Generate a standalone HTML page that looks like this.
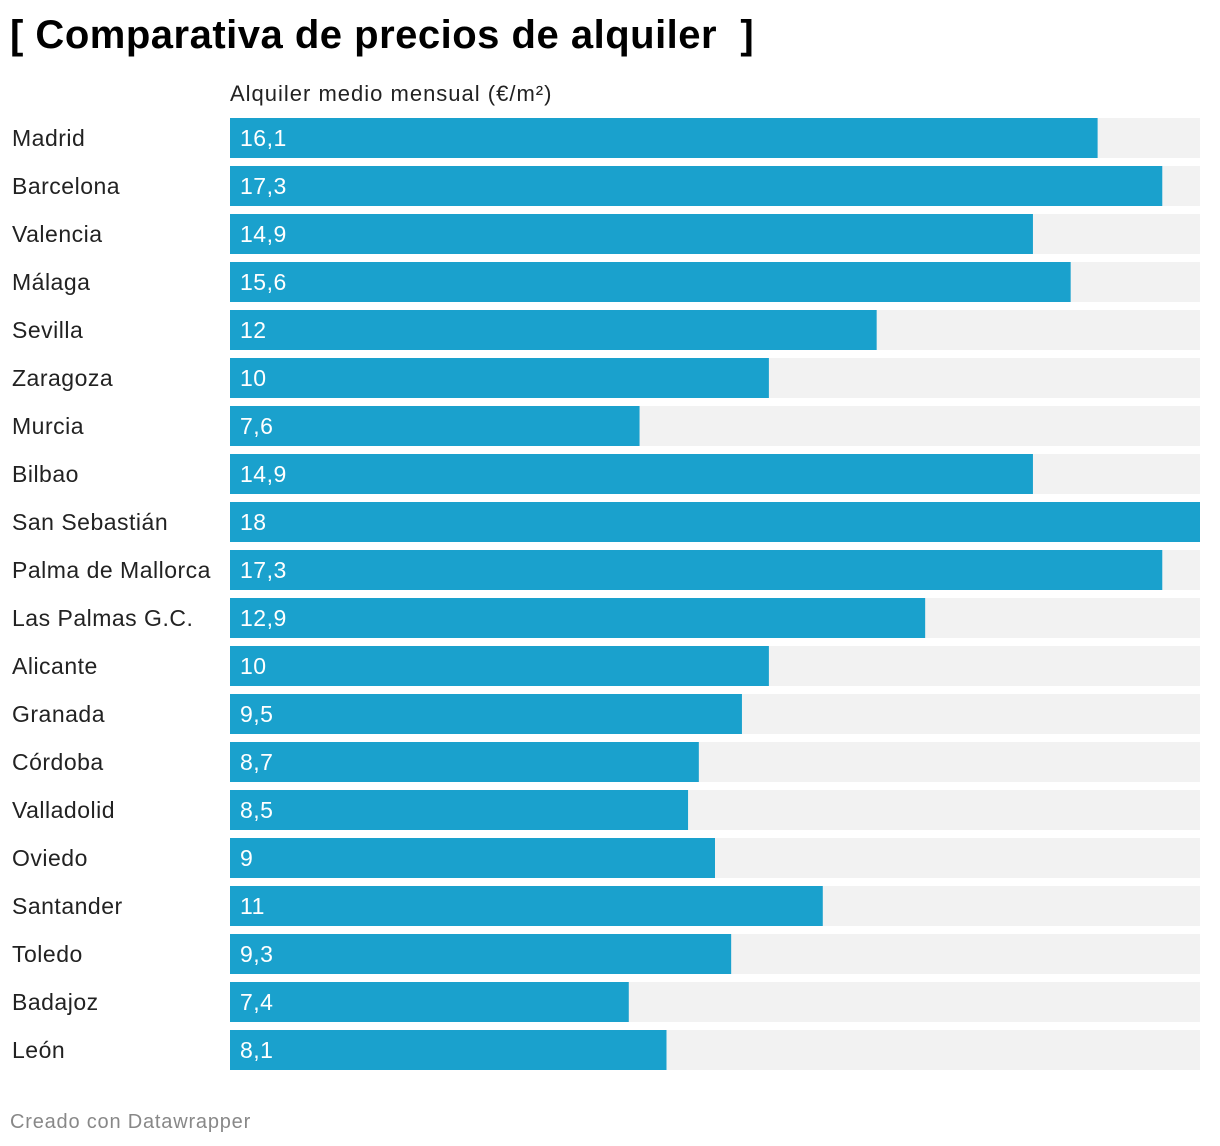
<!DOCTYPE html>
<html><head><meta charset="utf-8"><style>
body{margin:0;background:#fff;width:1220px;height:1146px;position:relative;font-family:"Liberation Sans",sans-serif;overflow:hidden}
#title{position:absolute;left:10px;top:13px;font-size:40px;font-weight:bold;color:#000;white-space:pre;letter-spacing:0.5px}
#sub{position:absolute;left:230px;top:81px;font-size:22px;color:#222;letter-spacing:1px}
#foot{position:absolute;left:10px;top:1111px;font-size:20px;color:#888;letter-spacing:0.8px}
svg{position:absolute;left:0;top:0}
</style></head><body>
<div id="title">[ Comparativa de precios de alquiler  ]</div>
<div id="sub">Alquiler medio mensual (€/m²)</div>
<svg id="chart" width="1220" height="1146"></svg>
<div id="foot">Creado con Datawrapper</div>
<script>
const categories=["Madrid","Barcelona","Valencia","Málaga","Sevilla","Zaragoza","Murcia","Bilbao","San Sebastián","Palma de Mallorca","Las Palmas G.C.","Alicante","Granada","Córdoba","Valladolid","Oviedo","Santander","Toledo","Badajoz","León"];
const values=[16.1,17.3,14.9,15.6,12,10,7.6,14.9,18,17.3,12.9,10,9.5,8.7,8.5,9,11,9.3,7.4,8.1];
const labels=["16,1","17,3","14,9","15,6","12","10","7,6","14,9","18","17,3","12,9","10","9,5","8,7","8,5","9","11","9,3","7,4","8,1"];
const maxV=18;
const x0=230,x1=1200,top0=118,step=48,bh=40;
const xs=v=>(v/maxV)*(x1-x0);
const ys=i=>top0+i*step;
const svg=document.getElementById('chart');
const NS="http://www.w3.org/2000/svg";
categories.forEach((c,i)=>{
  const y=ys(i);
  const bg=document.createElementNS(NS,'rect');
  bg.setAttribute('x',x0);bg.setAttribute('y',y);bg.setAttribute('width',x1-x0);bg.setAttribute('height',bh);bg.setAttribute('fill','#f2f2f2');
  
  
  svg.appendChild(bg);
  const r=document.createElementNS(NS,'rect');
  r.setAttribute('x',x0);r.setAttribute('y',y);r.setAttribute('width',xs(values[i]));r.setAttribute('height',bh);r.setAttribute('fill','#1aa1cd');
  
  
  svg.appendChild(r);
  const t=document.createElementNS(NS,'text');
  t.setAttribute('x',12);t.setAttribute('y',y+28);t.setAttribute('font-size','23');t.setAttribute('fill','#222');t.setAttribute('letter-spacing','0.5');
  t.textContent=c;
  
  
  svg.appendChild(t);
  const v=document.createElementNS(NS,'text');
  v.setAttribute('x',x0+10);v.setAttribute('y',y+28);v.setAttribute('font-size','23');v.setAttribute('fill','#fff');v.setAttribute('letter-spacing','0.5');
  v.textContent=labels[i];
  
  
  svg.appendChild(v);
});
</script>
</body></html>
